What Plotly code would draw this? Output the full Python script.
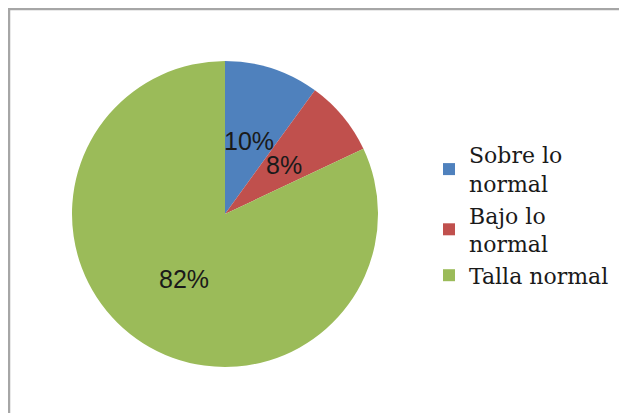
import math
import plotly.graph_objects as go

categories = ["Sobre lo<br>normal", "Bajo lo<br>normal", "Talla normal"]
values = [10, 8, 82]
colors = ["#4F81BD", "#C0504D", "#9BBB59"]

W, H = 627, 413
OFF = 8  # page body margin
cx, cy, R = 225 - OFF, 214 - OFF, 153

fig = go.Figure()
fig.add_trace(go.Pie(
    labels=categories, values=values, sort=False, direction="clockwise", rotation=0,
    marker=dict(colors=colors, line=dict(width=0)),
    textinfo="none", hoverinfo="label+percent",
    domain=dict(x=[(cx - R) / W, (cx + R) / W], y=[1 - (cy + R) / H, 1 - (cy - R) / H]),
))

# data labels placed at half radius, mid-angle of each slice (computed from values)
total = sum(values)
acc = 0
for v in values:
    mid = (acc + v / 2) / total * 2 * math.pi
    acc += v
    px = cx + 0.5 * R * math.sin(mid)
    py = cy - 0.5 * R * math.cos(mid)
    fig.add_annotation(x=px / W, y=1 - py / H, xref="paper", yref="paper",
                       xanchor="center", yanchor="middle",
                       text=f"{round(v / total * 100)}%", showarrow=False,
                       font=dict(family="Liberation Sans, Arial", size=25, color="#1a1a1a"))

fig.add_shape(type="rect", xref="paper", yref="paper",
              x0=1 / W, x1=1.1, y0=-0.1, y1=1 - 1 / H,
              line=dict(color="#A6A6A6", width=2.5), fillcolor="rgba(0,0,0,0)")

fig.update_layout(
    width=W, height=H, margin=dict(l=0, r=0, t=0, b=0),
    paper_bgcolor="white", plot_bgcolor="white",
    showlegend=True,
    legend=dict(x=421 / W, y=1 - 207 / H, xanchor="left", yanchor="middle",
                font=dict(family="DejaVu Serif", size=22, color="#1a1a1a"),
                bgcolor="rgba(0,0,0,0)", tracegroupgap=0),
)

fig.write_html("out.html")
